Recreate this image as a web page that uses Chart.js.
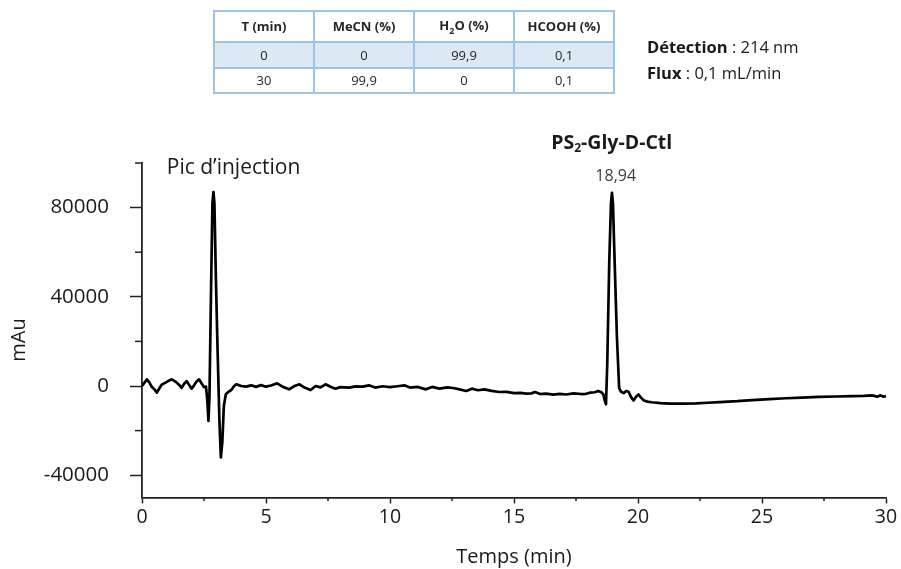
<!DOCTYPE html>
<html>
<head>
<meta charset="utf-8">
<script src="https://cdn.jsdelivr.net/npm/chart.js@4.4.1/dist/chart.umd.min.js"></script>
<style>
  html, body { margin:0; padding:0; background:#fff; }
  #wrap { position:relative; width:901px; height:569px; overflow:hidden; }
  canvas { position:absolute; left:0; top:0; }
  table.grad { position:absolute; left:213px; top:10px; border-collapse:collapse; font-family:"Open Sans", sans-serif; font-size:13px; color:#262626; }
  table.grad td, table.grad th { border:2px solid #9dc3e6; text-align:center; padding:0; width:98px; line-height:1; }
  table.grad th { height:29px; font-weight:bold; }
  table.grad tr.r1 td { height:24px; background:#dde8f5; }
  table.grad tr.r2 td { height:23px; }
  .info { position:absolute; left:647px; font-family:"Open Sans", sans-serif; font-size:16.5px; color:#1a1a1a; white-space:nowrap; }
</style>
</head>
<body>
<div id="wrap">
<canvas id="c" width="901" height="569"></canvas>
<table class="grad">
  <tr><th>T (min)</th><th>MeCN (%)</th><th>H<sub style="font-size:9px">2</sub>O (%)</th><th>HCOOH (%)</th></tr>
  <tr class="r1"><td>0</td><td>0</td><td>99,9</td><td>0,1</td></tr>
  <tr class="r2"><td>30</td><td>99,9</td><td>0</td><td>0,1</td></tr>
</table>
<div class="info" style="top:35px"><b>Détection</b> : 214 nm</div>
<div class="info" style="top:61px"><b>Flux</b> : 0,1 mL/min</div>
</div>
<script>
// ---- data ----
const times = [
  0,0.1,0.2,0.3,0.4,0.5,0.6,0.7,0.8,0.95,1.1,1.2,1.35,1.5,1.6,1.7,1.8,1.9,2.0,2.1,2.2,2.3,2.4,2.5,2.58,2.63,2.68,2.72,2.78,2.84,2.88,2.92,2.98,3.05,3.12,3.18,3.24,3.3,3.38,3.5,3.6,3.7,3.8,3.9,4.0,
  4.2,4.4,4.6,4.8,5.0,5.2,5.45,5.65,5.93,6.15,6.35,6.55,6.8,7.0,7.2,7.4,7.6,7.8,8.0,8.35,8.6,8.9,9.15,9.4,9.7,10.0,10.3,10.58,10.8,11.1,11.45,11.7,12.0,12.3,12.55,12.8,13.08,13.3,13.55,13.8,14.1,14.4,14.7,15.0,15.25,15.5,
  15.7,15.85,16.05,16.3,16.58,16.85,17.1,17.4,17.7,17.9,18.06,18.25,18.4,18.52,18.6,18.66,18.71,18.76,18.84,18.91,18.95,18.99,19.06,19.15,19.24,19.32,19.42,19.52,19.62,19.72,19.82,19.92,20.02,20.12,20.24,20.38,20.55,20.9,21.28,21.8,22.35,22.8,23.3,24.0,24.6,25.3,25.97,26.6,27.3,28.0,28.65,29.1,29.45,29.65,29.78,29.9,30.0
];
const signal = [
  0,1500,3000,1500,-500,-1500,-3000,-1000,700,1500,2500,3000,2000,500,-800,1000,2200,500,-1200,300,2000,3000,1200,-500,-300,-6000,-15700,-5000,40000,82000,87000,82000,48000,15000,-15000,-32000,-25000,-9000,-3700,-2500,-1800,-200,750,400,0,
  -300,300,-400,400,-300,200,1200,-200,-1500,0,750,-700,-1800,0,-600,750,-300,-1200,-500,-750,-200,-300,300,-700,-100,-500,-100,300,-700,-400,-1500,-400,-1200,-600,-900,-1500,-2250,-1200,-1900,-1500,-2200,-2700,-2600,-3200,-3100,-3450,
  -3300,-2700,-3600,-3400,-3900,-3500,-3800,-3300,-3600,-3500,-3000,-2800,-2200,-2800,-3700,-6500,-8200,10000,55000,82000,86600,82000,55000,22000,-1000,-2600,-3200,-2200,-2600,-5000,-6500,-4800,-3800,-5200,-6500,-7000,-7300,-7700,-7900,-7900,-7800,-7500,-7200,-6800,-6300,-5900,-5500,-5200,-4900,-4700,-4500,-4400,-4200,-4800,-4200,-4800,-4500
];
const xMajorTicks = [0,5,10,15,20,25,30];
const xMinorTicks = [2.5,7.5,12.5,17.5,22.5,27.5];
const yMajorTicks = [-40000,0,40000,80000];
const yMinorTicks = [-20000,20000,60000,100000];
const peakTime = 18.94;
const peakLabel = "18,94";
const injectionLabel = "Pic d\u2019injection";
const xTitle = "Temps (min)";
const yTitle = "mAu";

const points = times.map((t,i)=>({x:t, y:signal[i]}));

const extras = {
  id:'extras',
  afterDraw(chart){
    const ctx = chart.ctx, xs = chart.scales.x, ys = chart.scales.y;
    const ax = xs.getPixelForValue(0), ay = ys.getPixelForValue(-50000);
    ctx.save();
    ctx.strokeStyle = '#222'; ctx.lineWidth = 1.5;
    xMinorTicks.forEach(v=>{ const px = xs.getPixelForValue(v); ctx.beginPath(); ctx.moveTo(px, ay); ctx.lineTo(px, ay+3.5); ctx.stroke(); });
    yMinorTicks.forEach(v=>{ const py = ys.getPixelForValue(v); ctx.beginPath(); ctx.moveTo(ax, py); ctx.lineTo(ax-7, py); ctx.stroke(); });
    ctx.fillStyle = '#1a1a1a';
    ctx.textBaseline = 'middle';
    // y axis title
    ctx.save();
    ctx.translate(19, 340);
    ctx.rotate(-Math.PI/2);
    ctx.textAlign = 'center';
    ctx.font = '20px "Open Sans"';
    ctx.fillText(yTitle, 0, 0);
    ctx.restore();
    // annotations
    ctx.textAlign = 'left';
    ctx.font = '21px "Open Sans"';
    ctx.fillText(injectionLabel, xs.getPixelForValue(1.0), chart.chartArea.top + 5);
    const cx = xs.getPixelForValue(peakTime);
    const parts = [['PS','bold 19.5px "Open Sans"',0],['2','bold 12px "Open Sans"',6],['-Gly-D-Ctl','bold 19.5px "Open Sans"',0]];
    let w = 0; parts.forEach(p=>{ ctx.font=p[1]; w += ctx.measureText(p[0]).width; });
    let x = cx - w/2; const ty = chart.chartArea.top - 20;
    parts.forEach(p=>{ ctx.font=p[1]; ctx.fillText(p[0], x, ty + p[2]); x += ctx.measureText(p[0]).width; });
    ctx.fillStyle = '#404040';
    ctx.textAlign = 'center';
    ctx.font = '16px "Open Sans"';
    ctx.fillText(peakLabel, cx + 4, chart.chartArea.top + 13);
    ctx.restore();
  }
};

new Chart(document.getElementById('c'), {
  type:'line',
  data:{ datasets:[{ data:points, borderColor:'#000', borderWidth:2.7, pointRadius:0, tension:0, fill:false, borderJoinStyle:'round' }] },
  options:{
    responsive:false, animation:false, devicePixelRatio:1,
    layout:{ padding:{ top:163, right:15, left:0, bottom:0 } },
    plugins:{ legend:{display:false}, tooltip:{enabled:false} },
    scales:{
      x:{ type:'linear', min:0, max:30,
        afterBuildTicks:s=>{ s.ticks = xMajorTicks.map(v=>({value:v})); },
        afterFit:s=>{ s.height = 71.5; },
        ticks:{ callback:v=>String(v), font:{family:'"Open Sans"', size:19.5}, color:'#1a1a1a', padding:2, maxRotation:0 },
        grid:{ drawOnChartArea:false, drawTicks:true, tickLength:6, color:'#222', tickWidth:1.5 },
        border:{ display:true, color:'#222', width:1.8 },
        title:{ display:true, text:xTitle, font:{family:'"Open Sans"', size:20}, color:'#1a1a1a', padding:{top:0,bottom:0} }
      },
      y:{ type:'linear', min:-50000, max:100000,
        afterBuildTicks:s=>{ s.ticks = yMajorTicks.map(v=>({value:v})); },
        afterFit:s=>{ s.width = 142; },
        ticks:{ callback:v=>String(v), font:{family:'"Open Sans"', size:20.5}, color:'#1a1a1a', padding:21 },
        grid:{ drawOnChartArea:false, drawTicks:true, tickLength:12, color:'#222', tickWidth:1.5 },
        border:{ display:true, color:'#222', width:1.8 },
        title:{ display:false }
      }
    }
  },
  plugins:[extras]
});
</script>
</body>
</html>
